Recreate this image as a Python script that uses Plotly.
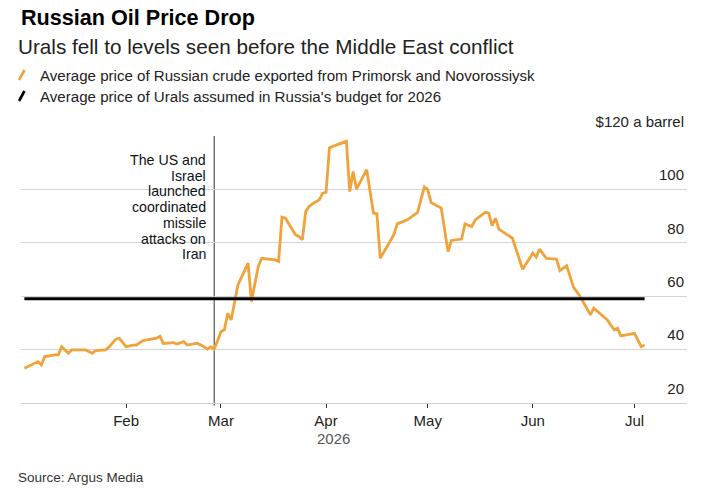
import plotly.graph_objects as go

# ---- data ----
dates = [
    "2026-01-02", "2026-01-04", "2026-01-06", "2026-01-07", "2026-01-08", "2026-01-11",
    "2026-01-12", "2026-01-13", "2026-01-15", "2026-01-16", "2026-01-20", "2026-01-22",
    "2026-01-23", "2026-01-26", "2026-01-27", "2026-01-29", "2026-01-30", "2026-02-01",
    "2026-02-03", "2026-02-04", "2026-02-06", "2026-02-10", "2026-02-11", "2026-02-12",
    "2026-02-15", "2026-02-16", "2026-02-18", "2026-02-19", "2026-02-22", "2026-02-24",
    "2026-02-25", "2026-02-26", "2026-02-27", "2026-02-28", "2026-03-01", "2026-03-02",
    "2026-03-03", "2026-03-04", "2026-03-06", "2026-03-09", "2026-03-10", "2026-03-12",
    "2026-03-13", "2026-03-17", "2026-03-18", "2026-03-19", "2026-03-20", "2026-03-23",
    "2026-03-24", "2026-03-25", "2026-03-26", "2026-03-27", "2026-03-28", "2026-03-30",
    "2026-03-31", "2026-04-01", "2026-04-02", "2026-04-03", "2026-04-07", "2026-04-08",
    "2026-04-09", "2026-04-10", "2026-04-13", "2026-04-15", "2026-04-16", "2026-04-17",
    "2026-04-21", "2026-04-22", "2026-04-25", "2026-04-28", "2026-04-30", "2026-05-01",
    "2026-05-02", "2026-05-05", "2026-05-07", "2026-05-08", "2026-05-11", "2026-05-12",
    "2026-05-14", "2026-05-15", "2026-05-18", "2026-05-19", "2026-05-20", "2026-05-21",
    "2026-05-22", "2026-05-26", "2026-05-29", "2026-06-01", "2026-06-02", "2026-06-03",
    "2026-06-05", "2026-06-08", "2026-06-09", "2026-06-11", "2026-06-13", "2026-06-15",
    "2026-06-18", "2026-06-19", "2026-06-23", "2026-06-25", "2026-06-26", "2026-06-27",
    "2026-07-01", "2026-07-03", "2026-07-04",
]
urals_price = [
    33.0, 34.2, 35.5, 34.2, 37.4, 38.0,
    38.0, 41.1, 38.6, 39.9, 39.9, 38.6,
    39.6, 39.9, 41.0, 43.9, 44.2, 41.1,
    41.7, 41.7, 43.4, 44.3, 45.0, 42.3,
    42.6, 42.1, 43.0, 41.7, 42.4, 41.1,
    40.1, 41.1, 40.2, 43.3, 46.7, 47.4,
    53.6, 51.1, 64.2, 72.4, 58.0, 71.1,
    74.2, 73.6, 73.0, 89.6, 89.2, 83.0,
    82.4, 81.1, 91.7, 93.6, 94.6, 96.1,
    98.6, 98.9, 115.5, 116.1, 118.0, 99.2,
    106.7, 100.1, 107.4, 91.1, 90.9, 74.2,
    83.0, 87.1, 88.6, 91.4, 100.9, 99.9,
    95.1, 93.0, 76.7, 80.9, 81.4, 87.1,
    86.1, 88.6, 91.4, 91.1, 86.4, 89.2,
    85.1, 81.7, 70.1, 76.1, 74.6, 77.6,
    74.2, 73.9, 69.6, 71.4, 63.4, 59.9,
    53.0, 55.5, 51.1, 47.4, 48.0, 45.1,
    46.1, 41.1, 41.7,
]
budget_price = 59
event_date = "2026-02-27"

tick_dates = ["2026-02-01", "2026-03-01", "2026-04-01", "2026-05-01", "2026-06-01", "2026-07-01"]
tick_labels = ["Feb", "Mar", "Apr", "May", "Jun", "Jul"]
y_ticks = [20, 40, 60, 80, 100, 120]
y_labels = ["20", "40", "60", "80", "100", "$120 a barrel"]

title = "Russian Oil Price Drop"
subtitle = "Urals fell to levels seen before the Middle East conflict"
legend_labels = ["Average price of Russian crude exported from Primorsk and Novorossiysk",
                 "Average price of Urals assumed in Russia's budget for 2026"]
event_lines = ["The US and", "Israel", "launched", "coordinated", "missile", "attacks on", "Iran"]
source = "Source: Argus Media"

# ---- style / layout ----
W, H = 723, 498
ML, MR, MT, MB = 21, 36, 136, 95
PW, PH = W - ML - MR, H - MT - MB
ORANGE = "#F0A33A"
FONT = "Liberation Sans, Arial, sans-serif"


def px(x):
    return (x - ML) / PW


def py(y):
    return (H - MB - y) / PH


fig = go.Figure()
fig.add_trace(go.Scatter(x=dates, y=urals_price, mode="lines",
                         line=dict(color=ORANGE, width=2.8), hoverinfo="skip"))
fig.add_trace(go.Scatter(x=[dates[0], dates[-1]], y=[budget_price, budget_price], mode="lines",
                         line=dict(color="#000000", width=3), hoverinfo="skip"))

fig.add_shape(type="line", xref="x", yref="paper", x0=event_date, x1=event_date,
              y0=-0.01, y1=1, line=dict(color="#333333", width=1), layer="below")

ann = []
ann.append(dict(text="<b>" + title + "</b>", x=px(19), y=py(17), font=dict(size=21.6, color="#000")))
ann.append(dict(text=subtitle, x=px(16), y=py(46), font=dict(size=20.7, color="#222")))
ann.append(dict(text=legend_labels[0], x=px(38), y=py(75), font=dict(size=15.1, color="#222")))
ann.append(dict(text=legend_labels[1], x=px(38), y=py(96), font=dict(size=15.1, color="#222")))
ann.append(dict(text=source, x=px(16), y=py(477), font=dict(size=13.5, color="#333")))
for a in ann:
    a.update(xref="paper", yref="paper", xanchor="left", yanchor="middle", showarrow=False)

for i, t in enumerate(event_lines):
    ann.append(dict(text=t, xref="paper", yref="paper", x=px(208), y=py(160 + i * 15.7),
                    xanchor="right", yanchor="middle", showarrow=False,
                    font=dict(size=14.2, color="#111")))
ann.append(dict(text="2026", xref="paper", yref="paper", x=px(333), y=py(438),
                xanchor="center", yanchor="middle", showarrow=False,
                font=dict(size=15, color="#555")))
fig.update_layout(annotations=ann)

# legend glyphs
for (yc, col) in [(75, ORANGE), (96, "#000")]:
    fig.add_shape(type="line", xref="paper", yref="paper",
                  x0=px(19), y0=py(yc + 5), x1=px(24.5), y1=py(yc - 5),
                  line=dict(color=col, width=2.6))

fig.update_layout(
    width=W, height=H,
    margin=dict(l=ML, r=MR, t=MT, b=MB, pad=0),
    paper_bgcolor="white", plot_bgcolor="white",
    showlegend=False,
    font=dict(family=FONT, size=15, color="#222"),
    xaxis=dict(type="date", range=["2026-01-01", "2026-07-16 12:00"],
               tickvals=tick_dates, ticktext=tick_labels,
               showgrid=False, zeroline=False,
               ticks="outside", ticklen=4, tickwidth=1, tickcolor="#333",
               showline=True, linecolor="#cfcfcf", linewidth=1,
               tickfont=dict(size=15, color="#222")),
    yaxis=dict(range=[20, 120], side="right", tickvals=y_ticks, ticktext=y_labels,
               ticklabelposition="inside top", ticklabeloverflow="allow",
               ticklabelshift=-4,
               showgrid=True, gridcolor="#d4d4d4", gridwidth=1, zeroline=False,
               ticks="", showline=False,
               tickfont=dict(size=15, color="#222")),
)

fig.write_html("out.html")
